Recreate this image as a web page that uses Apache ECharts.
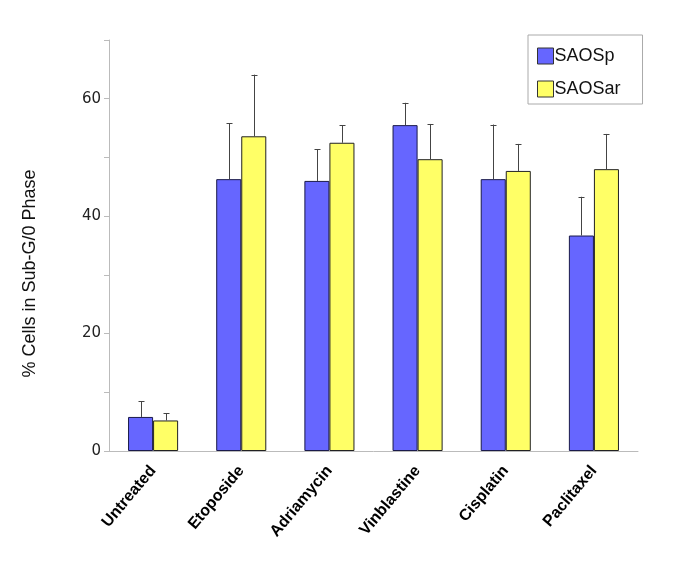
<!DOCTYPE html>
<html>
<head>
<meta charset="utf-8">
<script src="https://cdn.jsdelivr.net/npm/echarts@6/dist/echarts.min.js"></script>
<style>html,body{margin:0;padding:0;background:#fff}#c{width:685px;height:575px}</style>
</head>
<body>
<div id="c"></div>
<script>
const categories = ['Untreated', 'Etoposide', 'Adriamycin', 'Vinblastine', 'Cisplatin', 'Paclitaxel'];
const seriesNames = ['SAOSp', 'SAOSar'];
const saospMean = [5.8, 46.3, 46.0, 55.5, 46.3, 36.7];
const saospErr = [2.7, 9.5, 5.4, 3.8, 9.3, 6.6];
const saosarMean = [5.2, 53.6, 52.5, 49.7, 47.7, 48.0];
const saosarErr = [1.2, 10.5, 3.0, 6.0, 4.6, 6.0];
const yTicks = [0, 20, 40, 60];

const BAR_FRAC = 0.284;
function errSeries(means, errs, sign) {
  return {
    type: 'custom',
    z: 5,
    silent: true,
    data: means.map((m, i) => [i, m, errs[i]]),
    encode: { x: 0, y: 1 },
    renderItem: function (params, api) {
      const i = api.value(0), m = api.value(1), e = api.value(2);
      const band = api.size([1, 0])[0];
      const off = sign * band * BAR_FRAC / 2;
      const p0 = api.coord([i, m]);
      const p1 = api.coord([i, m + e]);
      const x = Math.round(p0[0] + off) + 0.5;
      const style = { stroke: '#444', lineWidth: 1 };
      return {
        type: 'group',
        children: [
          { type: 'line', shape: { x1: x, y1: p0[1], x2: x, y2: p1[1] }, style: style },
          { type: 'line', shape: { x1: x - 3, y1: Math.round(p1[1]) + 0.5, x2: x + 3, y2: Math.round(p1[1]) + 0.5 }, style: style }
        ]
      };
    }
  };
}

const chart = echarts.init(document.getElementById('c'), null, { renderer: 'canvas' });
chart.setOption({
  animation: false,
  backgroundColor: '#fff',
  grid: { left: 109, right: 47, top: 40, bottom: 124, containLabel: false },
  legend: {
    data: seriesNames,
    orient: 'vertical',
    left: 528,
    top: 35,
    icon: 'rect',
    itemWidth: 16,
    itemHeight: 16,
    itemGap: 15,
    padding: [12, 22, 6, 9],
    borderColor: '#aaa',
    borderWidth: 1,
    itemStyle: { borderColor: '#333', borderWidth: 1 },
    textStyle: { fontFamily: 'Liberation Sans', fontSize: 18, color: '#111', padding: [0, 0, 0, -4] }
  },
  xAxis: {
    type: 'category',
    data: categories,
    axisLine: { lineStyle: { color: '#bbb' } },
    axisTick: { length: 5, lineStyle: { color: '#bbb' } },
    axisLabel: {
      rotate: 50,
      margin: 17,
      interval: 0,
      fontFamily: 'Liberation Sans',
      fontWeight: 'bold',
      fontSize: 16,
      color: '#000'
    }
  },
  yAxis: {
    type: 'value',
    min: 0,
    max: 70,
    interval: 10,
    name: '% Cells in Sub-G/0 Phase',
    nameLocation: 'middle',
    nameGap: 70,
    nameTextStyle: { fontFamily: 'Liberation Sans', fontSize: 18, color: '#111', padding: [0, 56, 0, 0] },
    splitLine: { show: false },
    axisLine: { show: true, lineStyle: { color: '#bbb' } },
    axisTick: { show: true, length: 5, lineStyle: { color: '#bbb' } },
    axisLabel: {
      margin: 8,
      fontFamily: 'DejaVu Sans',
      fontSize: 15,
      color: '#222',
      formatter: v => (yTicks.indexOf(v) >= 0 ? String(v) : '')
    }
  },
  series: [
    {
      name: seriesNames[0],
      type: 'bar',
      data: saospMean,
      barWidth: (BAR_FRAC * 100) + '%',
      barGap: '0%',
      barCategoryGap: '43%',
      itemStyle: { color: '#6666ff', borderColor: '#1a1a4a', borderWidth: 1 }
    },
    {
      name: seriesNames[1],
      type: 'bar',
      data: saosarMean,
      barWidth: (BAR_FRAC * 100) + '%',
      barGap: '0%',
      itemStyle: { color: '#ffff66', borderColor: '#222', borderWidth: 1 }
    },
    errSeries(saospMean, saospErr, -1),
    errSeries(saosarMean, saosarErr, 1)
  ]
});
</script>
</body>
</html>
